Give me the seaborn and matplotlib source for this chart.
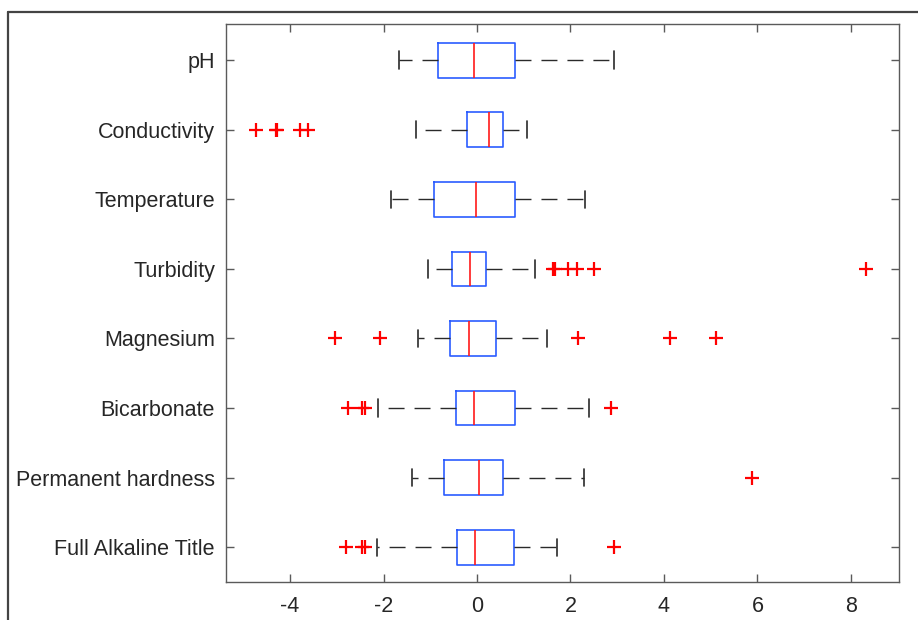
import numpy as np
import pandas as pd
import seaborn as sns
import matplotlib
matplotlib.use("Agg")
import matplotlib.pyplot as plt
from matplotlib.lines import Line2D

# Variables, top to bottom
categories = ["pH", "Conductivity", "Temperature", "Turbidity", "Magnesium",
              "Bicarbonate", "Permanent hardness", "Full Alkaline Title"]

# Box summary values
whisker_low = [-1.66, -1.30, -1.84, -1.05, -1.26, -2.12, -1.40, -2.14]
q1_values   = [-0.83, -0.21, -0.93, -0.53, -0.58, -0.45, -0.70, -0.43]
medians     = [-0.06,  0.25, -0.02, -0.14, -0.18, -0.07,  0.04, -0.05]
q3_values   = [ 0.81,  0.56,  0.82,  0.20,  0.40,  0.82,  0.55,  0.80]
whisker_high = [2.93,  1.06,  2.31,  1.24,  1.49,  2.40,  2.29,  1.72]

# Outliers (red crosses)
outliers = [
    [],
    [-4.73, -4.31, -4.27, -3.79, -3.61],
    [],
    [1.63, 1.67, 1.95, 2.15, 2.50, 8.33],
    [-3.04, -2.08, 2.17, 4.14, 5.12],
    [-2.76, -2.45, -2.40, 2.87],
    [5.89],
    [-2.80, -2.45, -2.40, 2.94],
]

xticks = [-4, -2, 0, 2, 4, 6, 8]

# Build a sample per variable whose quartiles/whiskers reproduce the summary values
BLOCK = 40
rows = []
for i, cat in enumerate(categories):
    vals = ([whisker_low[i]] + [q1_values[i]] * BLOCK + [medians[i]] * BLOCK +
            [q3_values[i]] * BLOCK + [whisker_high[i]] + outliers[i])
    rows += [(cat, v) for v in vals]
df = pd.DataFrame(rows, columns=["variable", "value"])

sns.set_style("white")
plt.rcParams["font.family"] = ["Liberation Sans", "DejaVu Sans"]

fig = plt.figure(figsize=(9.18, 6.2), dpi=100)
ax = fig.add_axes([226 / 918, 1 - 582 / 620, (899 - 226) / 918, (582 - 24) / 620])

box_blue = "#2b5cff"
sns.boxplot(
    data=df, x="value", y="variable", order=categories, orient="h", ax=ax,
    width=0.5, whis=1.5, fill=False, linewidth=1.2,
    boxprops=dict(color=box_blue, linewidth=1.2),
    medianprops=dict(color="#ff1a1a", linewidth=1.2),
    whiskerprops=dict(color="#2a2a2a", linewidth=1.0, linestyle=(0, (11.5, 7.2))),
    capprops=dict(color="#2a2a2a", linewidth=1.2),
    flierprops=dict(marker="+", markeredgecolor="#ff0000", markerfacecolor="#ff0000",
                    markersize=10, markeredgewidth=1.6, linestyle="none"),
    capwidths=0.25,
)

ax.set_xlim(-5.37, 9.03)
ax.set_ylim(7.5, -0.52)
ax.set_xticks(xticks)
ax.set_xticklabels([str(t) for t in xticks])
ax.set_xlabel("")
ax.set_ylabel("")

axis_gray = "#5a5a5a"
for sp in ax.spines.values():
    sp.set_visible(True)
    sp.set_color(axis_gray)
    sp.set_linewidth(1.0)
ax.tick_params(axis="both", direction="in", length=6, width=1.0, color=axis_gray,
               labelsize=15.5, labelcolor="#262626", top=True, right=True,
               left=True, bottom=True, pad=8)
ax.tick_params(axis="x", pad=10)

# Outer screenshot frame
fig.add_artist(Line2D([8 / 918, 1.0], [1 - 11.5 / 620, 1 - 11.5 / 620],
                      transform=fig.transFigure, color="#444444", linewidth=1.6))
fig.add_artist(Line2D([8 / 918, 8 / 918], [0, 1 - 11.5 / 620],
                      transform=fig.transFigure, color="#444444", linewidth=1.6))

fig.savefig("out.png", dpi=100)
